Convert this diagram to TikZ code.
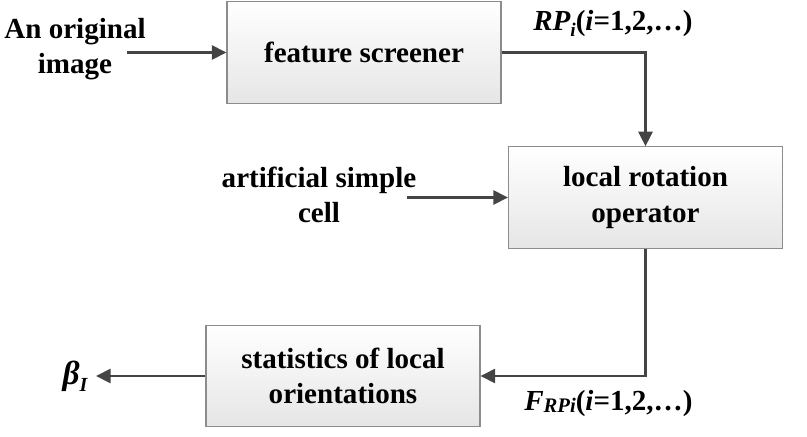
\documentclass[tikz,border=0pt]{standalone}
\usepackage{fontspec}
\setmainfont{Liberation Serif}
\usetikzlibrary{arrows.meta}
\definecolor{arrcol}{RGB}{68,68,68}
\definecolor{boxline}{RGB}{140,140,140}
\tikzset{
  procbox/.style={draw=boxline, line width=0.8pt, top color=white, bottom color=black!10,
    minimum width=205.5pt, minimum height=76pt, align=center, inner sep=0pt,
    font=\fontsize{21.8}{26.3}\selectfont\bfseries},
  lbl/.style={align=center, inner sep=0pt, font=\fontsize{21.8}{26.3}\selectfont\bfseries},
  arr/.style={draw=arrcol, line width=2.2pt, -{Triangle[length=11pt,width=10.5pt]}},
}
\begin{document}
\begin{tikzpicture}[x=0.75pt,y=-0.75pt]
\useasboundingbox (0,0) rectangle (807,436);
\node[procbox] (b1) at (364,52.5) {feature screener};
\node[procbox] (b2) at (645.5,197.5) {local rotation\\operator};
\node[procbox] (b3) at (343,376) {statistics of local\\orientations};
\node[lbl] (orig) at (75,49) {An original\\image};
\node[lbl] (art) at (319,195) {artificial simple\\cell};
\node[lbl, anchor=base west] (rp) at (533,30) {\textit{RP\raisebox{-0.22em}{\fontsize{14.5}{14.5}\selectfont i}}(\textit{i}=1,2,…)};
\node[lbl, anchor=base west] (frp) at (524,410) {\textit{F\raisebox{-0.08em}{\fontsize{15.5}{15.5}\selectfont RPi}}(\textit{i}=1,2,…)};
\node[lbl, anchor=base, font=\fontsize{25}{25}\selectfont\bfseries] (beta) at (75,384) {\textit{β\raisebox{-0.22em}{\fontsize{15}{15}\selectfont I}}};
\coordinate (o1) at (127,52.5);
\coordinate (a1) at (407,197.5);
\coordinate (be) at (96,376);
\draw[arr] (o1) -- (b1.west);
\draw[arr] (b1.east) -| (b2.north);
\draw[arr] (a1) -- (b2.west);
\draw[arr] (b2.south) |- (b3.east);
\draw[arr] (b3.west) -- (be);
\end{tikzpicture}
\end{document}
